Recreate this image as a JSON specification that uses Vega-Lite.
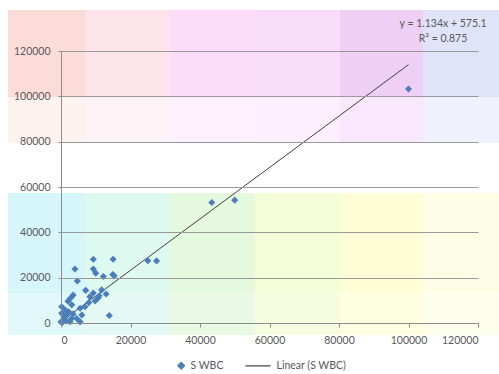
{
  "$schema": "https://vega.github.io/schema/vega-lite/v6.json",
  "width": 417,
  "height": 272,
  "autosize": {"type": "none"},
  "padding": {"left": 61, "top": 51, "right": 21, "bottom": 51},
  "background": "white",
  "config": {
    "view": {"stroke": null},
    "font": "Lato",
    "axis": {"labelFont": "Lato", "labelFontSize": 10.5, "labelColor": "#595959", "domainColor": "#8c8c8c", "tickColor": "#8c8c8c", "gridColor": "#999999"}
  },
  "datasets": {
    "bg": [
      {"zone": "t0", "x1": -15250, "x2": 6900, "y1": 99700, "y2": 138100},
      {"zone": "t1", "x1": 6900, "x2": 31370, "y1": 99700, "y2": 138100},
      {"zone": "t2", "x1": 31370, "x2": 55830, "y1": 99700, "y2": 138100},
      {"zone": "t3", "x1": 55830, "x2": 80300, "y1": 99700, "y2": 138100},
      {"zone": "t4", "x1": 80300, "x2": 104180, "y1": 99700, "y2": 138100},
      {"zone": "t5", "x1": 104180, "x2": 126050, "y1": 99700, "y2": 138100},
      {"zone": "m0", "x1": -15250, "x2": 6900, "y1": 79400, "y2": 99700},
      {"zone": "m1", "x1": 6900, "x2": 31370, "y1": 79400, "y2": 99700},
      {"zone": "m2", "x1": 31370, "x2": 55830, "y1": 79400, "y2": 99700},
      {"zone": "m3", "x1": 55830, "x2": 80300, "y1": 79400, "y2": 99700},
      {"zone": "m4", "x1": 80300, "x2": 104180, "y1": 79400, "y2": 99700},
      {"zone": "m5", "x1": 104180, "x2": 126050, "y1": 79400, "y2": 99700},
      {"zone": "b0", "x1": -15250, "x2": 6900, "y1": 13000, "y2": 57350},
      {"zone": "b1", "x1": 6900, "x2": 31370, "y1": 13000, "y2": 57350},
      {"zone": "b2", "x1": 31370, "x2": 55830, "y1": 13000, "y2": 57350},
      {"zone": "b3", "x1": 55830, "x2": 80300, "y1": 13000, "y2": 57350},
      {"zone": "b4", "x1": 80300, "x2": 104180, "y1": 13000, "y2": 57350},
      {"zone": "b5", "x1": 104180, "x2": 126050, "y1": 13000, "y2": 57350},
      {"zone": "c0", "x1": -15250, "x2": 6900, "y1": -5300, "y2": 13000},
      {"zone": "c1", "x1": 6900, "x2": 31370, "y1": -5300, "y2": 13000},
      {"zone": "c2", "x1": 31370, "x2": 55830, "y1": -5300, "y2": 13000},
      {"zone": "c3", "x1": 55830, "x2": 80300, "y1": -5300, "y2": 13000},
      {"zone": "c4", "x1": 80300, "x2": 104180, "y1": -5300, "y2": 13000},
      {"zone": "c5", "x1": 104180, "x2": 126050, "y1": -5300, "y2": 13000}
    ],
    "pts": [
      {"x": 100000, "y": 103200, "s": "S WBC"},
      {"x": 50000, "y": 54200, "s": "S WBC"},
      {"x": 43400, "y": 53200, "s": "S WBC"},
      {"x": 27500, "y": 27400, "s": "S WBC"},
      {"x": 25000, "y": 27500, "s": "S WBC"},
      {"x": 15000, "y": 28100, "s": "S WBC"},
      {"x": 9300, "y": 28100, "s": "S WBC"},
      {"x": 4000, "y": 23800, "s": "S WBC"},
      {"x": 9300, "y": 23800, "s": "S WBC"},
      {"x": 10000, "y": 22000, "s": "S WBC"},
      {"x": 12200, "y": 20500, "s": "S WBC"},
      {"x": 14900, "y": 21400, "s": "S WBC"},
      {"x": 15300, "y": 20800, "s": "S WBC"},
      {"x": 4700, "y": 18500, "s": "S WBC"},
      {"x": 7100, "y": 14400, "s": "S WBC"},
      {"x": 9300, "y": 13200, "s": "S WBC"},
      {"x": 11700, "y": 14600, "s": "S WBC"},
      {"x": 13000, "y": 12800, "s": "S WBC"},
      {"x": 10700, "y": 11000, "s": "S WBC"},
      {"x": 9800, "y": 9700, "s": "S WBC"},
      {"x": 8300, "y": 11600, "s": "S WBC"},
      {"x": 2700, "y": 10900, "s": "S WBC"},
      {"x": 2000, "y": 9600, "s": "S WBC"},
      {"x": 3100, "y": 8000, "s": "S WBC"},
      {"x": 5500, "y": 6500, "s": "S WBC"},
      {"x": 6900, "y": 7200, "s": "S WBC"},
      {"x": 13900, "y": 3300, "s": "S WBC"},
      {"x": 1200, "y": 5700, "s": "S WBC"},
      {"x": 200, "y": 4300, "s": "S WBC"},
      {"x": 1600, "y": 3500, "s": "S WBC"},
      {"x": 3500, "y": 4000, "s": "S WBC"},
      {"x": 4500, "y": 2000, "s": "S WBC"},
      {"x": 700, "y": 1300, "s": "S WBC"},
      {"x": 0, "y": 500, "s": "S WBC"},
      {"x": 2600, "y": 600, "s": "S WBC"},
      {"x": 5500, "y": 500, "s": "S WBC"},
      {"x": 1100, "y": 2800, "s": "S WBC"},
      {"x": 3000, "y": 2000, "s": "S WBC"},
      {"x": 200, "y": 7200, "s": "S WBC"},
      {"x": 3500, "y": 12300, "s": "S WBC"},
      {"x": 400, "y": 200, "s": "S WBC"},
      {"x": 1500, "y": 1000, "s": "S WBC"},
      {"x": 800, "y": 3000, "s": "S WBC"},
      {"x": 2200, "y": 5000, "s": "S WBC"},
      {"x": 6000, "y": 3500, "s": "S WBC"},
      {"x": 8000, "y": 9000, "s": "S WBC"},
      {"x": 11000, "y": 12000, "s": "S WBC"}
    ],
    "trend": [
      {"x": 0, "y": 575.1, "s": "Linear (S WBC)"},
      {"x": 100000, "y": 113975.1, "s": "Linear (S WBC)"}
    ],
    "note": [
      {"label": "y = 1.134x + 575.1", "x": 109940, "y": 131900},
      {"label": "R² = 0.875", "x": 109940, "y": 125300}
    ]
  },
  "layer": [
    {
      "data": {"name": "bg"},
      "mark": {"type": "rect", "clip": false},
      "encoding": {
        "x": {"field": "x1", "type": "quantitative", "scale": {"domain": [0, 120000], "nice": false},
          "axis": {"title": null, "grid": false, "zindex": 1, "values": [0, 20000, 40000, 60000, 80000, 100000, 120000], "format": "d", "tickSize": 4, "labelPadding": 8}},
        "x2": {"field": "x2"},
        "y": {"field": "y1", "type": "quantitative", "scale": {"domain": [0, 120000], "nice": false},
          "axis": {"title": null, "grid": true, "zindex": 1, "values": [0, 20000, 40000, 60000, 80000, 100000, 120000], "format": "d", "tickSize": 3, "labelPadding": 8}},
        "y2": {"field": "y2"},
        "fill": {"field": "zone", "type": "nominal", "legend": null,
          "scale": {
            "domain": ["t0","t1","t2","t3","t4","t5","m0","m1","m2","m3","m4","m5","b0","b1","b2","b3","b4","b5","c0","c1","c2","c3","c4","c5"],
            "range": ["#fcdcd9","#fde3ea","#fcdcf8","#f9dcf9","#efcff6","#e1e4f9",
                      "#fef2ee","#fef3f7","#fef0fd","#fdeffd","#f9e7fb","#f0f1fc",
                      "#d6f6f9","#ddf9f0","#e4f9de","#f4fcd8","#fefdd6","#fefee6",
                      "#e0f8fa","#e4f9f3","#e9f9e4","#f6fce0","#fefee0","#fefeec"]
          }}
      }
    },
    {
      "data": {"name": "trend"},
      "mark": {"type": "line", "strokeWidth": 1},
      "encoding": {
        "x": {"field": "x", "type": "quantitative",
          "axis": {"title": null, "grid": false, "zindex": 1, "values": [0, 20000, 40000, 60000, 80000, 100000, 120000], "format": "d", "tickSize": 4, "labelPadding": 8}},
        "y": {"field": "y", "type": "quantitative",
          "axis": {"title": null, "grid": true, "zindex": 1, "values": [0, 20000, 40000, 60000, 80000, 100000, 120000], "format": "d", "tickSize": 3, "labelPadding": 8}},
        "color": {"field": "s", "type": "nominal"}
      }
    },
    {
      "data": {"name": "pts"},
      "mark": {"type": "point", "filled": true, "opacity": 1, "size": 50},
      "encoding": {
        "x": {"field": "x", "type": "quantitative",
          "axis": {"title": null, "grid": false, "zindex": 1, "values": [0, 20000, 40000, 60000, 80000, 100000, 120000], "format": "d", "tickSize": 4, "labelPadding": 8}},
        "y": {"field": "y", "type": "quantitative",
          "axis": {"title": null, "grid": true, "zindex": 1, "values": [0, 20000, 40000, 60000, 80000, 100000, 120000], "format": "d", "tickSize": 3, "labelPadding": 8}},
        "color": {"field": "s", "type": "nominal",
          "scale": {"domain": ["S WBC", "Linear (S WBC)"], "range": ["#4a7ebb", "#404040"]},
          "legend": {"title": null, "orient": "none", "legendX": 115, "legendY": 309, "direction": "horizontal", "labelFont": "Lato", "labelFontSize": 10.5, "labelColor": "#595959", "columnPadding": 19, "symbolSize": 45, "symbolStrokeWidth": 1.2,
            "encode": {"symbols": {"update": {"stroke": {"scale": "color", "field": "value"}}}}}},
        "shape": {"field": "s", "type": "nominal",
          "scale": {"domain": ["S WBC", "Linear (S WBC)"], "range": ["diamond", "M-6.5,0L1,0"]},
          "legend": {"title": null, "orient": "none", "legendX": 115, "legendY": 309, "direction": "horizontal", "labelFont": "Lato", "labelFontSize": 10.5, "labelColor": "#595959", "columnPadding": 19, "symbolSize": 45, "symbolStrokeWidth": 1.2,
            "encode": {"symbols": {"update": {"stroke": {"scale": "color", "field": "value"}}}}}}
      }
    },
    {
      "data": {"name": "note"},
      "mark": {"type": "text", "font": "Lato", "fontSize": 10.5, "color": "#595959", "clip": false},
      "encoding": {
        "x": {"field": "x", "type": "quantitative",
          "axis": {"title": null, "grid": false, "zindex": 1, "values": [0, 20000, 40000, 60000, 80000, 100000, 120000], "format": "d", "tickSize": 4, "labelPadding": 8}},
        "y": {"field": "y", "type": "quantitative",
          "axis": {"title": null, "grid": true, "zindex": 1, "values": [0, 20000, 40000, 60000, 80000, 100000, 120000], "format": "d", "tickSize": 3, "labelPadding": 8}},
        "text": {"field": "label"}
      }
    }
  ]
}
